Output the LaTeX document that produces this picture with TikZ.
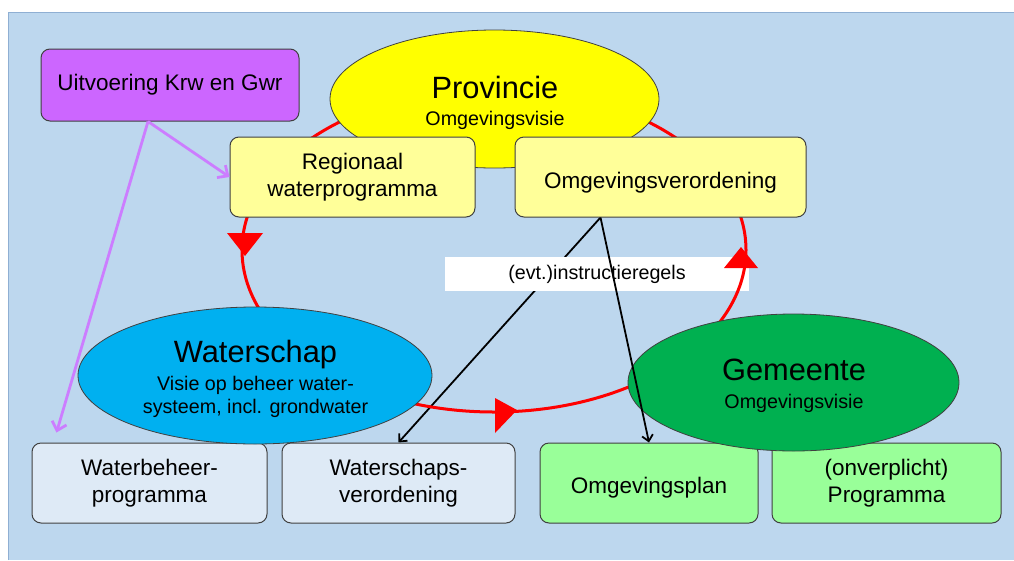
\documentclass[tikz,border=0pt]{standalone}
\usepackage{fontspec}
\setmainfont{Liberation Sans}
\usetikzlibrary{shapes.geometric,arrows.meta}
\definecolor{bgblue}{HTML}{BDD7EE}
\definecolor{bgedge}{HTML}{8FAFD3}
\definecolor{purpbox}{HTML}{CC66FF}
\definecolor{purpline}{HTML}{CC7DFF}
\definecolor{lyellow}{HTML}{FFFF99}
\definecolor{provyellow}{HTML}{FFFF00}
\definecolor{wsblue}{HTML}{00B0F0}
\definecolor{gmgreen}{HTML}{00B050}
\definecolor{lblue}{HTML}{DEEAF6}
\definecolor{lgreen}{HTML}{99FF99}
\definecolor{edgegray}{HTML}{404040}
\pgfdeclarelayer{back}
\pgfdeclarelayer{mid}
\pgfsetlayers{back,mid,main}
\begin{document}
\begin{tikzpicture}[x=1pt,y=-1pt,
  box/.style={draw=edgegray, line width=1pt, rounded corners=9pt, align=center, inner sep=0pt,
    font=\fontsize{22.5}{27}\selectfont},
  boxtxt/.style={font=\fontsize{22.5}{27}\selectfont, anchor=base, inner sep=0pt},
  ell/.style={ellipse, draw=edgegray, line width=0.8pt, inner sep=0pt},
  bigtxt/.style={font=\fontsize{30.8}{36}\selectfont, anchor=base, inner sep=0pt},
  smalltxt/.style={font=\fontsize{19.7}{23}\selectfont, anchor=base, inner sep=0pt},
  redtri/.style={fill=red},
  blackarrow/.style={draw=black, line width=1.8pt, -{Straight Barb[length=6pt,width=11pt]}},
  purparrow/.style={draw=purpline, line width=2.8pt, -{Straight Barb[length=8pt,width=15pt]}},
]
\useasboundingbox (0,0) rectangle (1014,560);
\begin{pgfonlayer}{back}
\fill[white] (0,0) rectangle (1014,560);
\fill[bgblue] (8,12) rectangle (1014,560);
\draw[bgedge, line width=1pt] (8,560) -- (8,12) -- (1014,12);
\end{pgfonlayer}

\begin{pgfonlayer}{mid}
% label box
\node[fill=white, minimum width=304pt, minimum height=34pt, inner sep=0pt,
  font=\fontsize{19.7}{23}\selectfont] (instr) at (597,274) {(evt.)instructieregels};
% red cycle
\draw[red, line width=3pt] (494,250) ellipse [x radius=252pt, y radius=162pt];
\fill[redtri] (227,233) -- (263,233) -- (245,256) -- cycle;
\fill[redtri] (495,398) -- (495,433) -- (517,410) -- cycle;
\fill[redtri] (724,268) -- (758,268) -- (741,247) -- cycle;
\end{pgfonlayer}

% Provincie
\node[ell, fill=provyellow, minimum width=329pt, minimum height=138pt] (prov) at (494.5,99) {};
\node[bigtxt] (provt) at (495,98) {Provincie};
\node[smalltxt] (provs) at (495,125) {Omgevingsvisie};

% top boxes
\node[box, fill=purpbox, minimum width=258pt, minimum height=72pt] (kr) at (170,85) {Uitvoering Krw en Gwr};
\node[box, fill=lyellow, minimum width=245pt, minimum height=80pt] (rw) at (352.5,177) {Regionaal\\waterprogramma};
\node[box, fill=lyellow, minimum width=291pt, minimum height=80pt] (ov) at (660.5,177) {};
\node[boxtxt] (ovt) at (660.5,188) {Omgevingsverordening};

% bottom boxes
\node[box, fill=lblue, minimum width=235pt, minimum height=80pt] (wb) at (149.5,483) {Waterbeheer-\\programma};
\node[box, fill=lblue, minimum width=233pt, minimum height=80pt] (wv) at (398.5,483) {Waterschaps-\\verordening};
\node[box, fill=lgreen, minimum width=218pt, minimum height=80pt] (op) at (649,483) {};
\node[boxtxt] (opt) at (649,493) {Omgevingsplan};
\node[box, fill=lgreen, minimum width=229pt, minimum height=80pt] (pg) at (886.5,483) {(onverplicht)\\Programma};

% Waterschap
\node[ell, fill=wsblue, minimum width=354pt, minimum height=137pt] (ws) at (255,375.5) {};
\node[bigtxt] (wst) at (255.5,362) {Waterschap};
\node[smalltxt] (wss1) at (255.5,390) {Visie op beheer water-};
\node[smalltxt] (wss2) at (255.5,413) {systeem, incl. grondwater};

% Gemeente
\node[ell, fill=gmgreen, minimum width=331pt, minimum height=137pt] (gm) at (793.5,382.5) {};
\node[bigtxt] (gmt) at (794,380) {Gemeente};
\node[smalltxt] (gms) at (794,408) {Omgevingsvisie};

% black connectors
\coordinate (ovs) at ([xshift=-60pt]ov.south);
\begin{pgfonlayer}{back}
\draw[blackarrow] (ovs) -- (wv.north);
\end{pgfonlayer}
\draw[blackarrow] (ovs) -- (op.north);

% purple connectors
\coordinate (krs) at ([xshift=-22pt]kr.south);
\coordinate (wbt) at ([shift={(25,-10)}]wb.north west);
\draw[purparrow] (krs) -- (rw.west);
\draw[purparrow] (krs) -- (wbt);
\end{tikzpicture}
\end{document}
